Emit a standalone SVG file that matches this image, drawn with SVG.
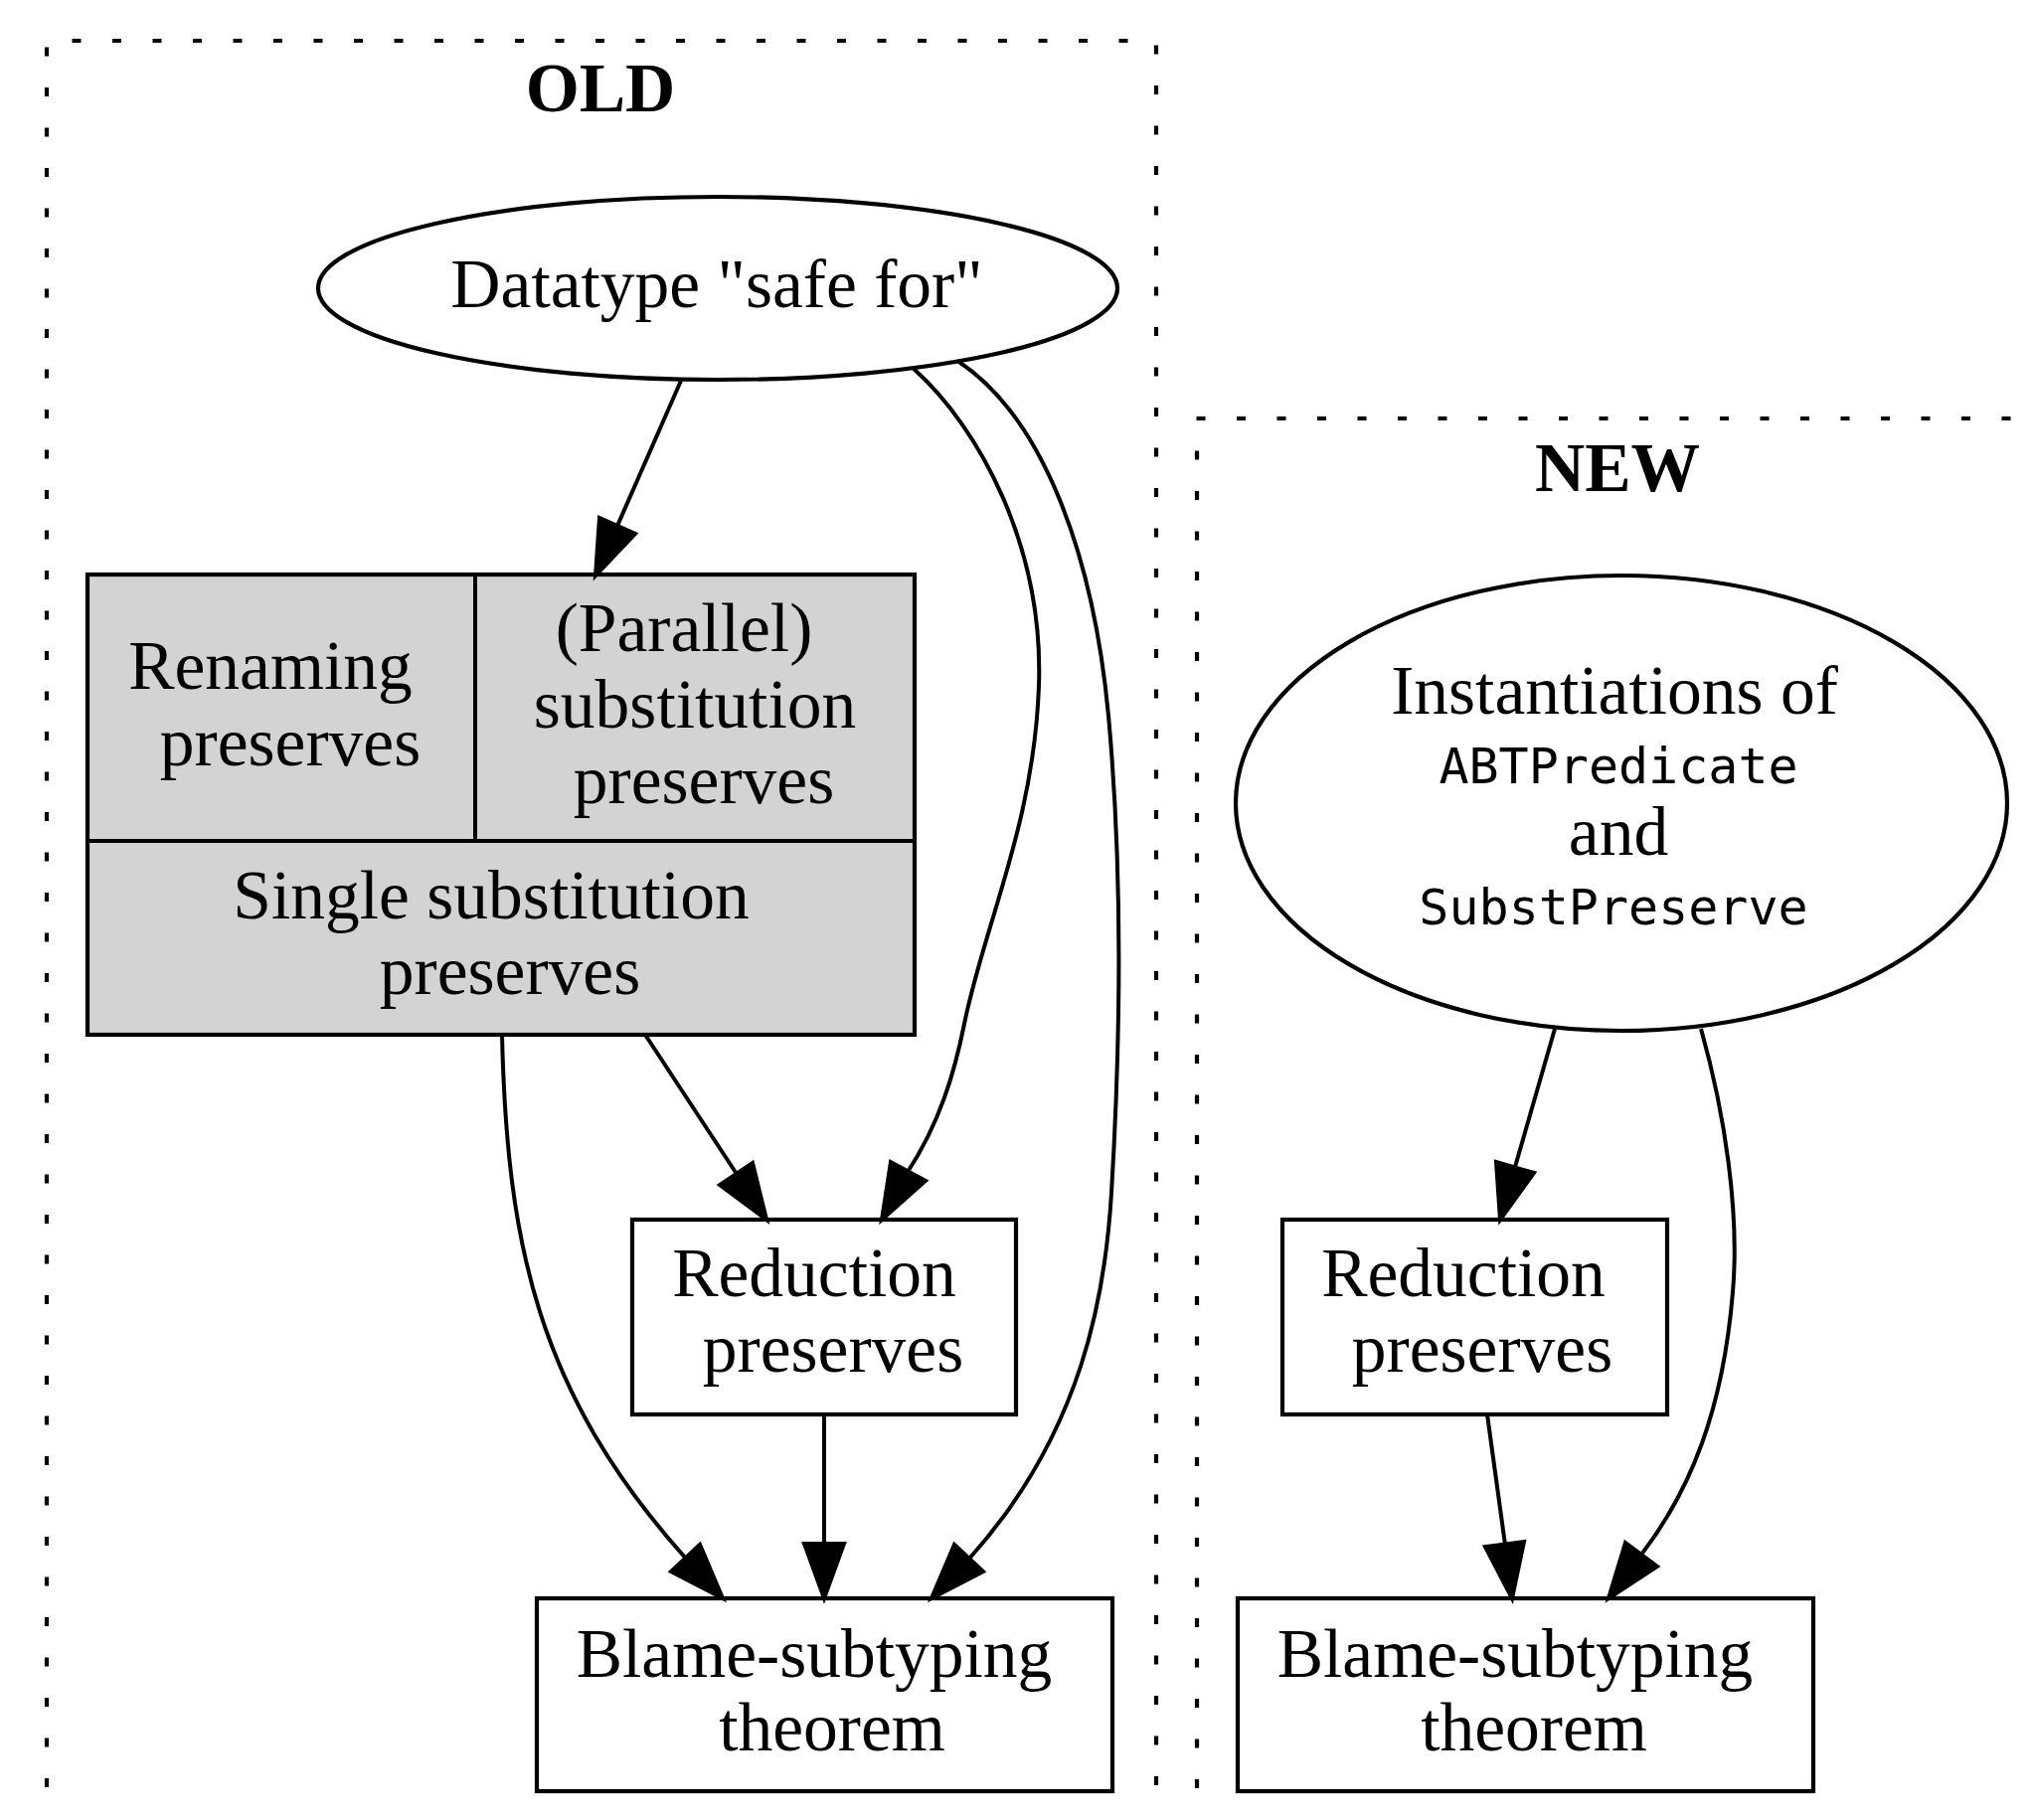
<svg xmlns="http://www.w3.org/2000/svg" width="2046" height="1831" viewBox="0 0 2046 1831">
<style>
  .bg { fill: #ffffff; }
  .cl { fill: none; stroke: #000; stroke-width: 4.2; stroke-dasharray: 9 31.5; }
  .nd { fill: #ffffff; stroke: #000; stroke-width: 4.2; }
  .rec { fill: #d3d3d3; stroke: #000; stroke-width: 4.2; }
  .t { font-family: "Liberation Serif", "Times New Roman", serif; font-size: 69.5px; text-anchor: middle; fill: #000; }
  .tb { font-family: "Liberation Serif", "Times New Roman", serif; font-size: 69.5px; font-weight: bold; text-anchor: middle; fill: #000; }
  .m { font-family: "DejaVu Sans Mono", "Liberation Mono", monospace; font-size: 50px; text-anchor: middle; fill: #000; }
  .e { fill: none; stroke: #000; stroke-width: 4; }
  .ah { fill: #000; stroke: #000; stroke-width: 4; stroke-linejoin: miter; }
</style>
<rect class="bg" x="0" y="0" width="2046" height="1831"/>

<g id="cluster_old">
  <line class="cl" x1="47" y1="47.5" x2="47" y2="1806"/>
  <line class="cl" x1="72.5" y1="41" x2="1166" y2="41"/>
  <line class="cl" x1="1163" y1="45.5" x2="1163" y2="1806"/>
  <text class="tb" x="604" y="112">OLD</text>
</g>

<g id="cluster_new">
  <line class="cl" x1="1203.5" y1="421" x2="2046" y2="421"/>
  <line class="cl" x1="1204" y1="453.5" x2="1204" y2="1806"/>
  <text class="tb" x="1627" y="494">NEW</text>
</g>

<g id="node_datatype">
  <ellipse class="nd" cx="722" cy="290" rx="402" ry="92"/>
  <text class="t" x="721" y="309">Datatype "safe for"</text>
</g>

<g id="node_record">
  <rect class="rec" x="88" y="578" width="832" height="463"/>
  <line class="e" x1="88" y1="846" x2="920" y2="846"/>
  <line class="e" x1="478" y1="578" x2="478" y2="846"/>
  <text class="t" x="272" y="693">Renaming</text>
  <text class="t" x="292" y="770">preserves</text>
  <text class="t" x="688" y="655">(Parallel)</text>
  <text class="t" x="699" y="732">substitution</text>
  <text class="t" x="708" y="808">preserves</text>
  <text class="t" x="494" y="924">Single substitution</text>
  <text class="t" x="513" y="1000">preserves</text>
</g>

<g id="node_reduction_old">
  <rect class="nd" x="636" y="1227" width="386" height="196"/>
  <text class="t" x="819" y="1304">Reduction</text>
  <text class="t" x="838" y="1380">preserves</text>
</g>

<g id="node_blame_old">
  <rect class="nd" x="540" y="1608" width="579" height="194"/>
  <text class="t" x="819" y="1687">Blame-subtyping</text>
  <text class="t" x="837" y="1761">theorem</text>
</g>

<g id="node_instantiations">
  <ellipse class="nd" cx="1631" cy="808" rx="388" ry="229"/>
  <text class="t" x="1624" y="718">Instantiations of</text>
  <text class="m" x="1628" y="788">ABTPredicate</text>
  <text class="t" x="1628" y="860">and</text>
  <text class="m" x="1623" y="930">SubstPreserve</text>
</g>

<g id="node_reduction_new">
  <rect class="nd" x="1290" y="1227" width="387" height="196"/>
  <text class="t" x="1472" y="1304">Reduction</text>
  <text class="t" x="1491" y="1380">preserves</text>
</g>

<g id="node_blame_new">
  <rect class="nd" x="1245" y="1608" width="579" height="194"/>
  <text class="t" x="1524" y="1687">Blame-subtyping</text>
  <text class="t" x="1543" y="1761">theorem</text>
</g>

<g id="connectors">
  <!-- Datatype -> record -->
  <path class="e" d="M685,383 L621,529"/>
  <polygon class="ah" points="599,579 639,537 603,521"/>
  <!-- Datatype -> Reduction old -->
  <path class="e" d="M919,371 C985,430 1050,550 1045,690 C1040,830 990,930 970,1030 C960,1080 945,1130 913,1179"/>
  <polygon class="ah" points="887,1227 931,1188 896,1169"/>
  <!-- Datatype -> Blame old -->
  <path class="e" d="M963,363 C1050,420 1100,560 1115,720 C1126,840 1130,1000 1118,1200 C1112,1300 1090,1440 975,1568"/>
  <polygon class="ah" points="937,1608 989,1581 960,1554"/>
  <!-- record -> Reduction old -->
  <path class="e" d="M649,1041 L741,1181"/>
  <polygon class="ah" points="771,1227 757,1170 724,1192"/>
  <!-- record -> Blame old -->
  <path class="e" d="M505,1041 C510,1250 540,1400 690,1568"/>
  <polygon class="ah" points="727,1608 704,1554 675,1581"/>
  <!-- Reduction old -> Blame old -->
  <path class="e" d="M829,1423 L829,1553"/>
  <polygon class="ah" points="829,1608 849,1553 809,1553"/>
  <!-- Instantiations -> Reduction new -->
  <path class="e" d="M1564,1035 L1524,1174"/>
  <polygon class="ah" points="1509,1227 1543,1180 1505,1169"/>
  <!-- Instantiations -> Blame new -->
  <path class="e" d="M1711,1035 C1735,1120 1750,1220 1743,1300 C1733,1420 1700,1500 1651,1564"/>
  <polygon class="ah" points="1618,1608 1667,1576 1635,1552"/>
  <!-- Reduction new -> Blame new -->
  <path class="e" d="M1496,1423 L1514,1554"/>
  <polygon class="ah" points="1521,1608 1533,1551 1494,1556"/>
</g>
</svg>
